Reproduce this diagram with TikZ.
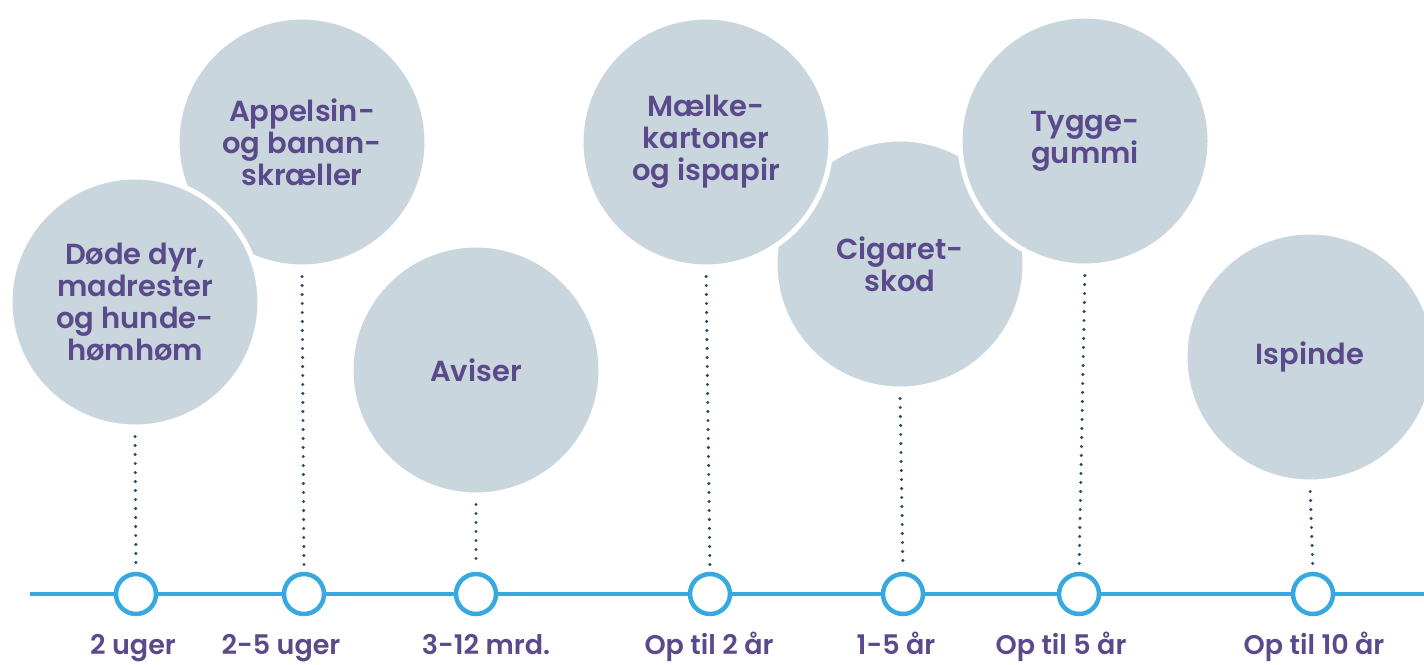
\documentclass[tikz,border=0pt]{standalone}
\usepackage{fontspec}
\setmainfont{Poppins}[BoldFont={Poppins SemiBold}]
\usepackage{tikz}
\usetikzlibrary{positioning}

\definecolor{bubblegrey}{HTML}{CAD6DD}
\definecolor{txtpurple}{HTML}{5A4A8B}
\definecolor{lineblue}{HTML}{36A9E1}
\definecolor{dotgrey}{HTML}{2E4B5C}

\tikzset{
  bubble/.style={circle, fill=bubblegrey, draw=white, line width=5pt,
    minimum size=250pt, inner sep=0pt, align=center, text=txtpurple,
    font=\bfseries\fontsize{29}{32}\selectfont},
  tick/.style={circle, fill=white, draw=lineblue, line width=4.5pt,
    minimum size=40pt, inner sep=0pt},
  yearlbl/.style={text=txtpurple, anchor=base, inner sep=0pt,
    font=\bfseries\fontsize{27}{30}\selectfont},
  dots/.style={dotgrey, line width=3.4pt, line cap=round,
    dash pattern=on 0pt off 9pt, shorten <=7pt, shorten >=5pt}
}

\begin{document}
\begin{tikzpicture}[x=1pt,y=-1pt]
      \useasboundingbox (0,0) rectangle (1424,664);
      \clip (0,0) rectangle (1424,664);

      % bubbles
      \node [bubble] (appelsin) at (302,142) {Appelsin-\\og banan-\\skræller};
      \node [bubble] (doede) at (135,302) {Døde dyr,\\madrester\\og hunde-\\hømhøm};
      \node [bubble] (aviser) at (476,370) {Aviser};
      \node [bubble] (cigaret) at (900,264) {Cigaret-\\skod};
      \node [bubble] (maelke) at (706,142) {Mælke-\\kartoner\\og ispapir};
      \node [bubble] (tygge) at (1085,141) {Tygge-\\gummi};
      \node [bubble] (ispinde) at (1310,357) {Ispinde};

      % timeline
      \coordinate (tlstart) at (30,594);
      \coordinate (tlend) at (1424,594);
      \draw [lineblue, line width=4.5pt] (tlstart) -- (tlend);

      \node [tick] (t1) at (136,594) {};
      \node [tick] (t2) at (304,594) {};
      \node [tick] (t3) at (476,594) {};
      \node [tick] (t4) at (710,594) {};
      \node [tick] (t5) at (903,594) {};
      \node [tick] (t6) at (1079,594) {};
      \node [tick] (t7) at (1313,594) {};

      \draw [dots] (doede.south) -- (t1.north);
      \draw [dots] (appelsin.south) -- (t2.north);
      \draw [dots] (aviser.south) -- (t3.north);
      \draw [dots] (maelke.south) -- (t4.north);
      \draw [dots] (cigaret.south) -- (t5.north);
      \draw [dots] (tygge.south) -- (t6.north);
      \draw [dots] (ispinde.south) -- (t7.north);

      % years
      \node [yearlbl] (y1) at (133,654) {2 uger};
      \node [yearlbl] (y2) at (281,654) {2-5 uger};
      \node [yearlbl] (y3) at (486,654) {3-12 mrd.};
      \node [yearlbl] (y4) at (709,654) {Op til 2 år};
      \node [yearlbl] (y5) at (896,654) {1-5 år};
      \node [yearlbl] (y6) at (1061,654) {Op til 5 år};
      \node [yearlbl] (y7) at (1314,654) {Op til 10 år};
    \end{tikzpicture}
\end{document}
